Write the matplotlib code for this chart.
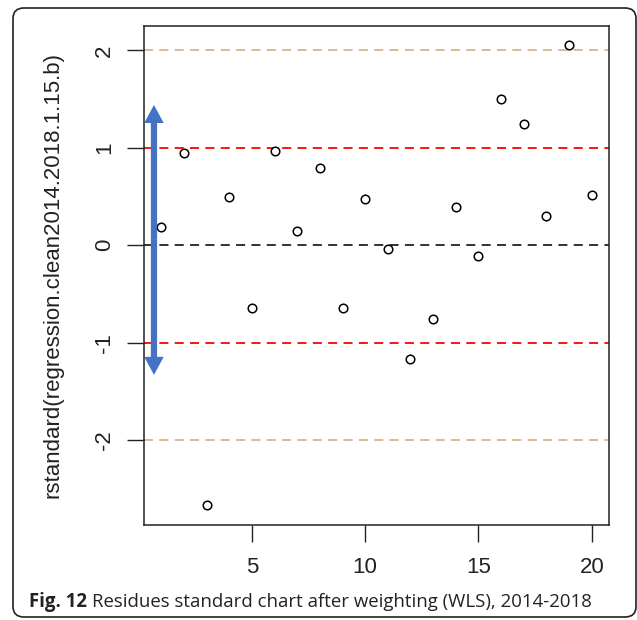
import matplotlib
matplotlib.use("Agg")
import matplotlib.pyplot as plt
from matplotlib.patches import FancyBboxPatch, FancyArrowPatch

index = list(range(1, 21))
rstd = [0.19, 0.95, -2.66, 0.50, -0.64, 0.97, 0.15, 0.79, -0.64, 0.47,
        -0.04, -1.17, -0.76, 0.39, -0.11, 1.50, 1.24, 0.30, 2.06, 0.52]
x_ticks = [5, 10, 15, 20]
y_ticks = [-2, -1, 0, 1, 2]
ref_lines = [(2, "#D8B38A"), (1, "#FF0000"), (0, "#222222"), (-1, "#FF0000"), (-2, "#D8B38A")]
arrow_x = 0.68
arrow_y = (1.44, -1.33)
ylabel = "rstandard(regression.clean2014.2018.1.15.b)"

W, H = 637, 620
fig = plt.figure(figsize=(W / 100, H / 100), dpi=100)
ax = fig.add_axes([144 / W, 1 - 525 / H, (609 - 144) / W, (525 - 26) / H])

for yv, c in ref_lines:
    ax.axhline(yv, color=c, lw=1.3, ls=(0, (5, 3.5)), zorder=1)

ax.scatter(index, rstd, s=38, facecolors="white", edgecolors="black", linewidths=1.1, zorder=3)

mid = (arrow_y[0] + arrow_y[1]) / 2
for end in arrow_y:
    arr = FancyArrowPatch((arrow_x, mid), (arrow_x, end),
                          arrowstyle="simple,head_length=1.3,head_width=1.4,tail_width=0.45",
                          mutation_scale=10, color="#4472C4", lw=0, zorder=4,
                          shrinkA=0, shrinkB=0)
    ax.add_patch(arr)

ax.set_xlim(0.24, 20.76)
ax.set_ylim(-2.87, 2.25)
ax.set_xticks(x_ticks)
ax.set_yticks(y_ticks)
font = "Liberation Sans"
fs = 16
ax.set_xticklabels([str(t) for t in x_ticks], fontsize=fs, family=font, color="#222222")
ax.set_yticklabels([str(t) for t in y_ticks], fontsize=fs, family=font, rotation=90,
                   va="center", color="#222222")
ax.tick_params(axis="both", length=12, width=1, color="#222222")
ax.tick_params(axis="x", pad=11)
ax.tick_params(axis="y", pad=9)
for sp in ax.spines.values():
    sp.set_linewidth(1.1)
    sp.set_color("#222222")
ax.set_ylabel(ylabel, fontsize=fs, family=font, color="#222222")
ax.yaxis.set_label_coords((64 - 144) / (609 - 144), 0.5)

frame = FancyBboxPatch((13 / W, 1 - 617 / H), (636 - 13) / W, (617 - 8) / H,
                       boxstyle="round,pad=0,rounding_size=0.017",
                       transform=fig.transFigure, fill=False, ec="#222222", lw=1.2)
fig.patches.append(frame)

cap_fs = 13.45
t1 = fig.text(29 / W, 1 - 602 / H, "Fig. 12", fontsize=cap_fs, fontweight="bold",
              family="Open Sans", color="#222222", va="center")
fig.canvas.draw()
bb = t1.get_window_extent()
x2 = (bb.x1 + 5) / W
fig.text(x2, 1 - 602 / H, "Residues standard chart after weighting (WLS), 2014-2018",
         fontsize=cap_fs, family="Open Sans", color="#222222", va="center")

fig.savefig("out.png", dpi=100)
